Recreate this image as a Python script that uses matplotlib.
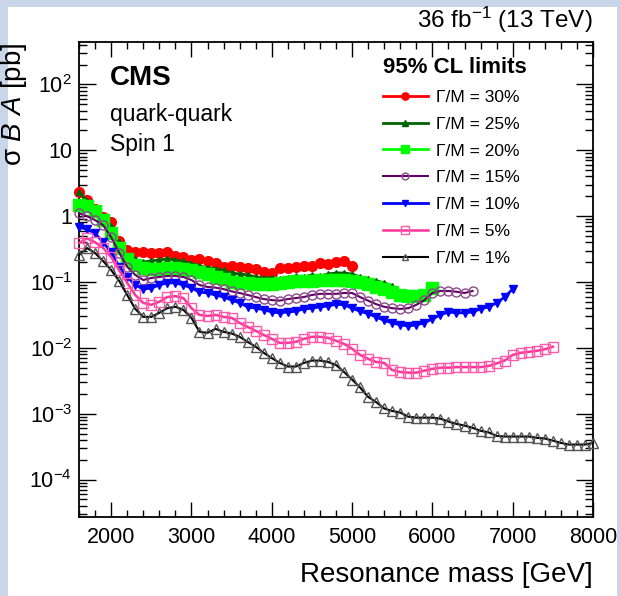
import numpy as np
import matplotlib
matplotlib.use("Agg")
import matplotlib.pyplot as plt
from matplotlib.patches import Rectangle
from matplotlib.ticker import FixedLocator, LogLocator, MultipleLocator, NullFormatter

plt.rcParams['font.family'] = ['Liberation Sans', 'DejaVu Sans']
plt.rcParams['mathtext.fontset'] = 'custom'
plt.rcParams['mathtext.rm'] = 'Liberation Sans'
plt.rcParams['mathtext.it'] = 'Liberation Sans:italic'
plt.rcParams['mathtext.bf'] = 'Liberation Sans:bold'

# 95% CL upper limits [pb], one point every 100 GeV starting at 1600 GeV
w30 = [2.3, 1.75, 1.28, 0.97, 0.81, 0.42, 0.305, 0.285, 0.285, 0.275,
       0.275, 0.285, 0.248, 0.239, 0.215, 0.223, 0.208, 0.194, 0.169, 0.175,
       0.169, 0.163, 0.157, 0.142, 0.137, 0.163, 0.163, 0.169, 0.175, 0.175,
       0.194, 0.187, 0.201, 0.208, 0.175]
w25 = [2.3, 1.7, 1.25, 0.95, 0.7, 0.4, 0.25, 0.22, 0.2, 0.21,
       0.215, 0.225, 0.215, 0.205, 0.19, 0.175, 0.165, 0.158, 0.15, 0.137,
       0.132, 0.128, 0.119, 0.115, 0.115, 0.111, 0.115, 0.123, 0.119, 0.128,
       0.123, 0.132, 0.137, 0.137, 0.132, 0.119, 0.111, 0.104, 0.097, 0.087]
w20 = [1.5, 1.4, 1.2, 0.87, 0.55, 0.33, 0.22, 0.18, 0.165, 0.16,
       0.16, 0.165, 0.165, 0.16, 0.15, 0.14, 0.13, 0.12, 0.11, 0.1,
       0.097, 0.095, 0.093, 0.092, 0.092, 0.095, 0.1, 0.102, 0.105, 0.105,
       0.107, 0.107, 0.108, 0.108, 0.105, 0.1, 0.092, 0.085, 0.078, 0.07,
       0.064, 0.062, 0.062, 0.063, 0.08]
w15 = [1.11, 1.0, 0.87, 0.73, 0.48, 0.28, 0.17, 0.128, 0.107, 0.115,
       0.119, 0.123, 0.123, 0.119, 0.107, 0.09, 0.084, 0.082, 0.078, 0.072,
       0.068, 0.0635, 0.059, 0.055, 0.053, 0.052, 0.055, 0.057, 0.059, 0.0635,
       0.066, 0.066, 0.066, 0.068, 0.068, 0.059, 0.052, 0.046, 0.042, 0.040,
       0.039, 0.040, 0.045, 0.053, 0.068, 0.073, 0.073, 0.071, 0.068, 0.073]
w10 = [0.68, 0.63, 0.55, 0.4, 0.285, 0.17, 0.119, 0.09, 0.078, 0.081,
       0.09, 0.097, 0.097, 0.09, 0.081, 0.0705, 0.068, 0.0635, 0.059, 0.0534,
       0.048, 0.042, 0.040, 0.038, 0.035, 0.034, 0.035, 0.036, 0.039, 0.040,
       0.042, 0.043, 0.046, 0.045, 0.040, 0.036, 0.033, 0.0295, 0.026, 0.024,
       0.0223, 0.0215, 0.0223, 0.024, 0.0275, 0.0316, 0.035, 0.034, 0.034, 0.035,
       0.039, 0.042, 0.048, 0.059, 0.078]
w05 = [0.39, 0.46, 0.40, 0.33, 0.24, 0.152, 0.097, 0.0635, 0.048, 0.045,
       0.05, 0.059, 0.061, 0.057, 0.040, 0.0316, 0.0305, 0.0316, 0.0295, 0.0285,
       0.0239, 0.0208, 0.0181, 0.0157, 0.0137, 0.0119, 0.0119, 0.0123, 0.0137, 0.0147,
       0.0147, 0.0142, 0.0128, 0.0115, 0.0097, 0.0078, 0.0068, 0.0061, 0.0059, 0.0046,
       0.0043, 0.0042, 0.0042, 0.0045, 0.0048, 0.0050, 0.0050, 0.0051, 0.0051, 0.0051,
       0.0051, 0.0053, 0.0058, 0.0064, 0.0078, 0.0084, 0.0087, 0.009, 0.0095, 0.0104]
w01 = [0.256, 0.327, 0.275, 0.208, 0.152, 0.104, 0.0635, 0.039, 0.0295, 0.0295,
       0.034, 0.040, 0.042, 0.0377, 0.0285, 0.0175, 0.0169, 0.0194, 0.0175, 0.0165,
       0.0147, 0.0123, 0.0104, 0.0084, 0.0070, 0.0059, 0.0052, 0.0052, 0.0059, 0.0064,
       0.0064, 0.0061, 0.0055, 0.0043, 0.0033, 0.0025, 0.0018, 0.0015, 0.0012, 0.0011,
       0.00104, 0.0009, 0.00087, 0.00087, 0.00087, 0.00084, 0.00076, 0.0007, 0.00066, 0.00061,
       0.00055, 0.00052, 0.00046, 0.00045, 0.00045, 0.00045, 0.00045, 0.00043, 0.00042, 0.00039,
       0.00036, 0.00034, 0.00034, 0.00034, 0.00036]

labels = ['Γ/M = 30%', 'Γ/M = 25%', 'Γ/M = 20%', 'Γ/M = 15%',
          'Γ/M = 10%', 'Γ/M = 5%', 'Γ/M = 1%']
ytick_vals = [1e-4, 1e-3, 1e-2, 1e-1, 1, 10, 100]
ytick_labels = ['$10^{-4}$', '$10^{-3}$', '$10^{-2}$', '$10^{-1}$', '1', '10', '$10^{2}$']
xtick_vals = [2000, 3000, 4000, 5000, 6000, 7000, 8000]

# (line colour, marker, face, edge, size, line width)
styles = [
    ('#ff0000', 'o', '#ff0000', '#ff0000', 7.0, 2.0),
    ('#006400', '^', '#006400', '#006400', 5.0, 2.0),
    ('#00ff00', 's', '#00ff00', '#00ff00', 8.0, 2.0),
    ('#660066', 'o', 'none', '#8a4a8a', 6.5, 1.5),
    ('#0000ff', 'v', '#0000ff', '#0000ff', 5.5, 2.0),
    ('#ff3399', 's', 'none', '#ff5aaa', 7.5, 1.8),
    ('#000000', '^', 'none', '#555555', 6.5, 1.5),
]
series = [w30, w25, w20, w15, w10, w05, w01]

fig = plt.figure(figsize=(6.2, 5.96), dpi=100)
# the screenshot shows a bit of the blurred slide behind the white canvas
fig.patch.set_facecolor('#c9d5e8')
fig.patches.append(Rectangle((8/620, 0), 609/620, 589/596, transform=fig.transFigure,
                             facecolor='white', edgecolor='none', zorder=-10))

ax = fig.add_axes([79/620, 1-517/596, 514/620, 475/596])
ax.set_facecolor('none')

for i, (vals, st, lab) in enumerate(zip(series, styles, labels)):
    m = 1600 + 100*np.arange(len(vals))
    ax.plot(m, vals, color=st[0], marker=st[1], mfc=st[2], mec=st[3],
            ms=st[4], lw=st[5], mew=1.0, label=lab, clip_on=False, zorder=3+i)

ax.set_yscale('log')
ax.set_xlim(1600, 8000)
ax.set_ylim(2.7e-5, 440)

ax.yaxis.set_major_locator(FixedLocator(ytick_vals))
ax.set_yticklabels(ytick_labels)
ax.yaxis.set_minor_locator(LogLocator(base=10, subs=np.arange(2, 10), numticks=20))
ax.yaxis.set_minor_formatter(NullFormatter())
ax.xaxis.set_major_locator(FixedLocator(xtick_vals))
ax.set_xticklabels([str(v) for v in xtick_vals])
ax.xaxis.set_minor_locator(MultipleLocator(200))

ax.tick_params(which='both', direction='in', top=True, right=True, width=1.0,
               labelsize=15.5, colors='black')
ax.tick_params(axis='x', which='major', length=11, pad=7)
ax.tick_params(axis='x', which='minor', length=5)
ax.tick_params(axis='y', which='major', length=12, pad=5)
ax.tick_params(axis='y', which='minor', length=6)
for s in ax.spines.values():
    s.set_linewidth(1.3)

ax.set_xlabel('Resonance mass [GeV]', fontsize=20, loc='right', labelpad=10)
ax.set_ylabel(r'σ $\mathit{B}$ $\mathit{A}$ [pb]', fontsize=20, loc='top', labelpad=0)

fig.text(593/620, 1-20/596, r'36 fb$^{-1}$ (13 TeV)', fontsize=17.5, ha='right', va='center')
ax.text(0.06, 0.924, 'CMS', transform=ax.transAxes, fontsize=20, fontweight='bold',
        ha='left', va='center')
ax.text(0.06, 0.848, 'quark-quark', transform=ax.transAxes, fontsize=16.5, ha='left', va='center')
ax.text(0.06, 0.785, 'Spin 1', transform=ax.transAxes, fontsize=16.5, ha='left', va='center')

leg = ax.legend(loc='upper left', bbox_to_anchor=(0.592, 0.968), frameon=False,
                fontsize=12.5, title='95% CL limits', title_fontproperties={'weight': 'bold', 'size': 16},
                handlelength=2.55, handletextpad=0.5, labelspacing=0.67, markerscale=0.75,
                borderaxespad=0, borderpad=0)
leg._legend_box.align = 'left'

fig.savefig('out.png', dpi=100, facecolor=fig.get_facecolor())
